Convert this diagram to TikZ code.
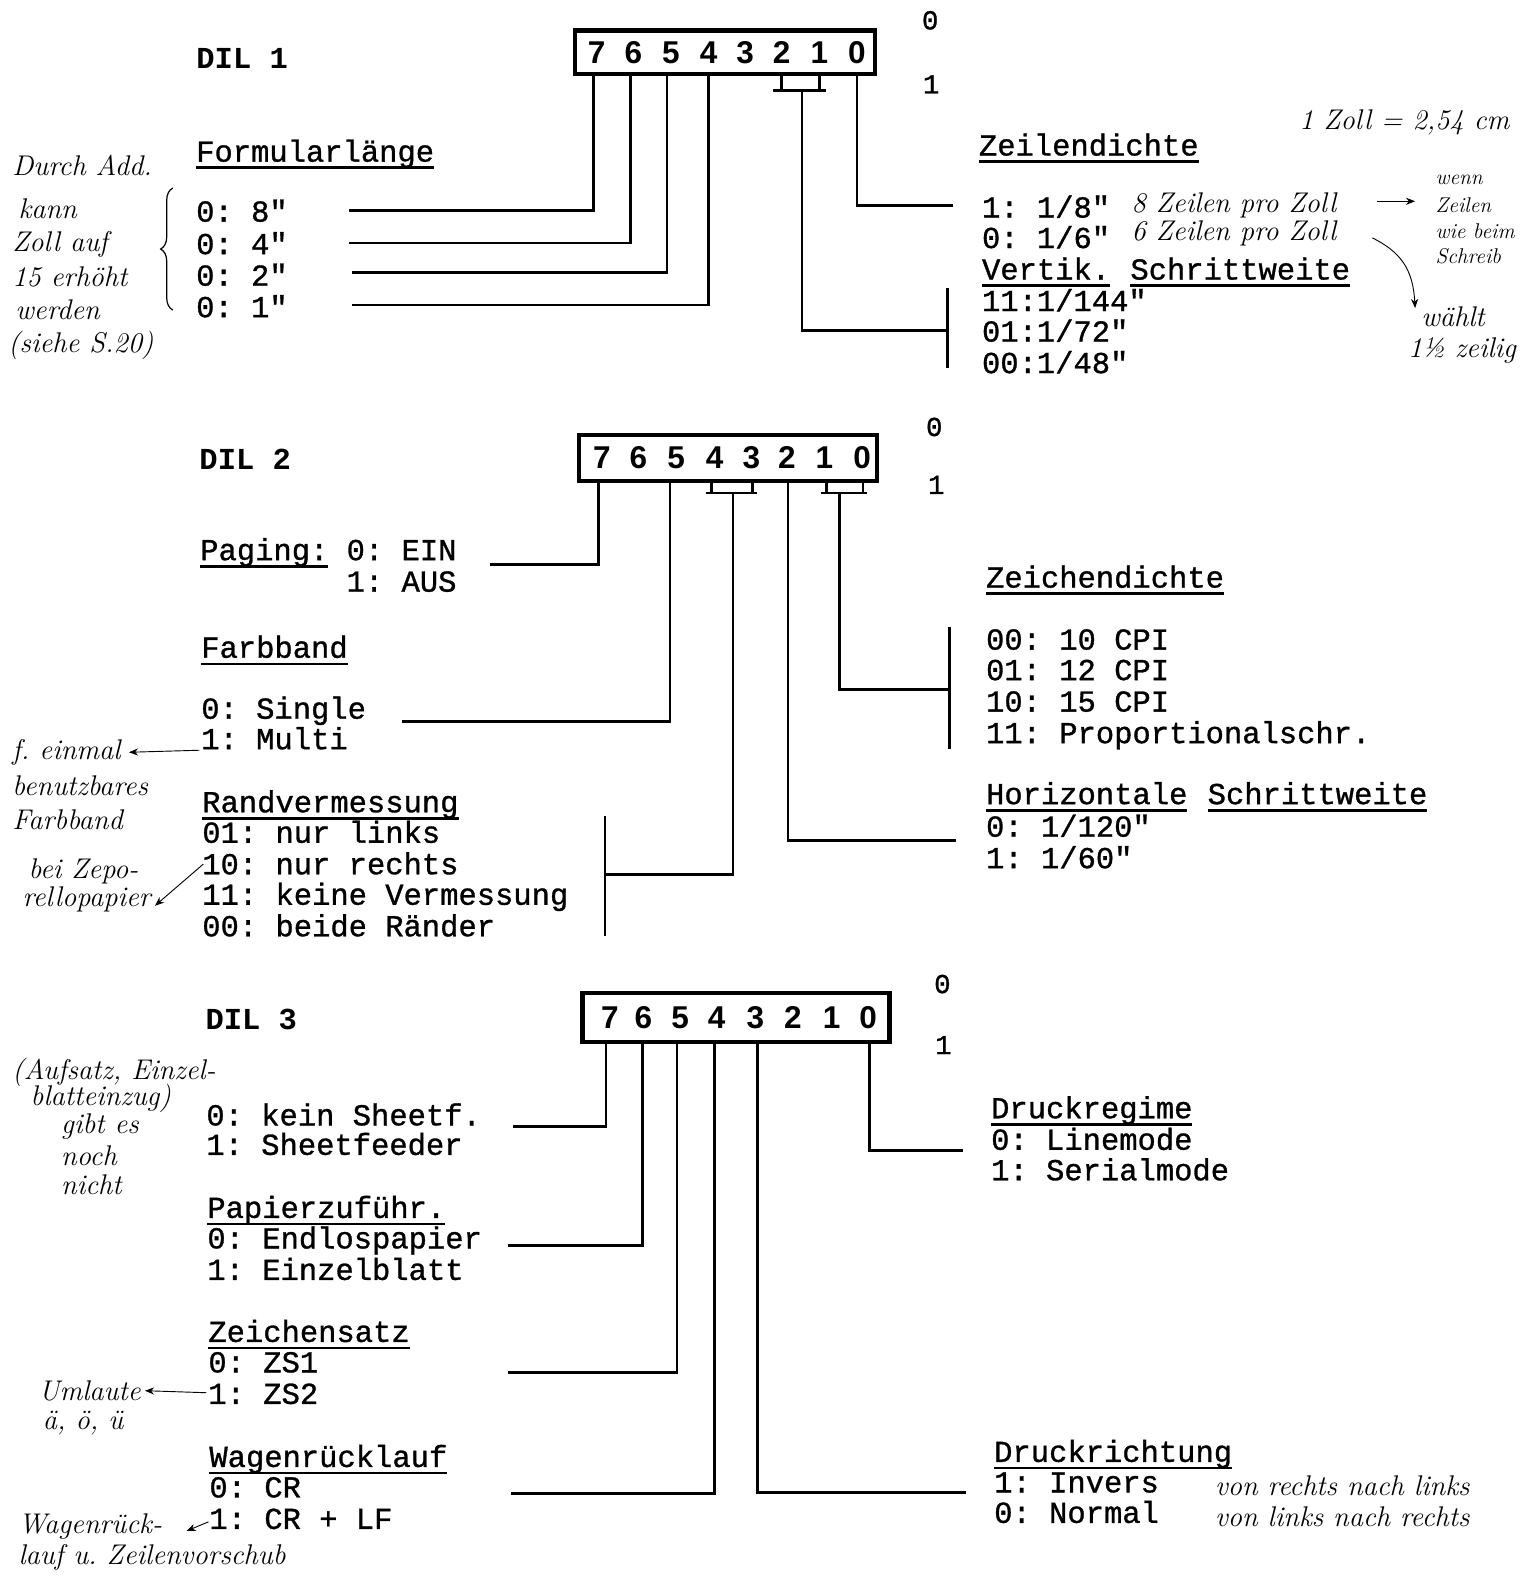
\documentclass[tikz,border=0pt]{standalone}
\usepackage{fontspec}
\usetikzlibrary{arrows.meta,decorations.pathreplacing}
\newfontfamily\twfam[FakeBold=1]{Liberation Mono}
\newfontfamily\twbold{Liberation Mono Bold}
\newfontfamily\digfam{Liberation Sans Bold}
\newcommand{\twf}{\twfam\fontsize{30}{34}\selectfont\frenchspacing}
\newcommand{\dilf}{\twbold\fontsize{30}{34}\selectfont\frenchspacing}
\newcommand{\digf}{\digfam\fontsize{31}{34}\selectfont}
\newcommand{\hwf}{\rmfamily\itshape\fontsize{28}{32}\selectfont\frenchspacing}
\newcommand{\hwsf}{\rmfamily\itshape\fontsize{21}{24}\selectfont\frenchspacing}
\newcommand{\onf}{\twfam\fontsize{27}{30}\selectfont}
\frenchspacing
\tikzset{
  tw/.style={font=\twf, anchor=base west, inner sep=0pt, outer sep=0pt},
  dilname/.style={font=\dilf, anchor=base west, inner sep=0pt},
  onoff/.style={font=\onf, inner sep=0pt},
  dilbox/.style={draw, line width=4pt, inner sep=0pt, outer sep=0pt},
  dig/.style={font=\digf, inner sep=0pt},
  wire/.style={line width=2.6pt},
  ul/.style={line width=2.6pt},
  hw/.style={font=\hwf, anchor=west, inner sep=0pt},
  hws/.style={font=\hwsf, anchor=west, inner sep=0pt},
  hwarrow/.style={-{Stealth[length=9pt,width=7pt]}, line width=0.9pt}
}
\newcommand{\ulnode}[1]{\draw[ul] ([yshift=-6pt]#1.base west) -- ([yshift=-6pt]#1.base east);}
\begin{document}
\begin{tikzpicture}[x=1pt,y=-1pt]
\clip (0,0) rectangle (1509,1568);
\fill[white] (0,0) rectangle (1509,1568);

% ================= DIL 1 =================
\node[dilname] (n1) at (193,67) {DIL 1};
\node[dilbox, minimum width=295pt, minimum height=43pt] (dil1) at (713.5,51.5) {};
\foreach \d/\x in {7/587,6/623,5/660,4/697,3/733,2/769,1/806,0/843}
  \node[dig] (d1\d) at (\x,52) {\d};
\node[onoff] (z1) at (915,20) {0};
\node[onoff] (e1) at (916,83) {1};

\node[tw] (fl) at (193,159) {Formularlänge}; \ulnode{fl}
\node[tw] (fa) at (193,218) {0: 8"};
\node[tw] (fb) at (193,250) {0: 4"};
\node[tw] (fc) at (193,281) {0: 2"};
\node[tw] (fd) at (193,312) {0: 1"};

\node[tw] (zd) at (963,153) {Zeilendichte}; \ulnode{zd}
\node[tw] (za) at (966,214) {1: 1/8"};
\node[tw] (zb) at (966,244) {0: 1/6"};
\node[tw] (vs1) at (966,275) {Vertik.}; \ulnode{vs1}
\node[tw] (vs2) at (1112,275) {Schrittweite}; \ulnode{vs2}
\node[tw] (va) at (966,306) {11:1/144"};
\node[tw] (vb) at (966,336) {01:1/72"};
\node[tw] (vc) at (966,367) {00:1/48"};

\coordinate (w1a) at (343,207);
\coordinate (w1b) at (343,239);
\coordinate (w1c) at (346,268);
\coordinate (w1d) at (346,300);
\coordinate (w1v) at (932,325);
\coordinate (w1z) at (937,202);
\draw[wire] ([xshift=18pt]dil1.south west) |- (w1a);
\draw[wire] ([xshift=54pt]dil1.south west) |- (w1b);
\draw[wire] ([xshift=90pt]dil1.south west) |- (w1c);
\draw[wire] ([xshift=131pt]dil1.south west) |- (w1d);
\coordinate (b1) at (789,89);
\draw[wire] ([xshift=203pt]dil1.south west) -- ++(0,16);
\draw[wire] ([xshift=240pt]dil1.south west) -- ++(0,16);
\draw[wire] ([xshift=-29pt]b1) -- ([xshift=24pt]b1);
\draw[wire] (b1) |- (w1v);
\draw[wire] (932,283) -- (932,362);
\draw[wire] ([xshift=277pt]dil1.south west) |- (w1z);

% ================= DIL 2 =================
\node[dilname] (n2) at (196,462) {DIL 2};
\node[dilbox, minimum width=293pt, minimum height=45pt] (dil2) at (716.5,450.5) {};
\foreach \d/\x in {7/592,6/628,5/665,4/703,3/739,2/774,1/811,0/848}
  \node[dig] (d2\d) at (\x,450) {\d};
\node[onoff] (z2) at (919,420) {0};
\node[onoff] (e2) at (921,477) {1};

\node[tw] (pg) at (197,551) {Paging:}; \ulnode{pg}
\node[tw] (pa) at (341,551) {0: EIN};
\node[tw] (pb) at (341,582) {1: AUS};
\node[tw] (fb2) at (198,647) {Farbband}; \ulnode{fb2}
\node[tw] (fba) at (198,707) {0: Single};
\node[tw] (fbb) at (198,737) {1: Multi};
\node[tw] (rv) at (199,799) {Randvermessung}; \ulnode{rv}
\node[tw] (rva) at (199,829) {01: nur links};
\node[tw] (rvb) at (199,860) {10: nur rechts};
\node[tw] (rvc) at (199,890) {11: keine Vermessung};
\node[tw] (rvd) at (199,921) {00: beide Ränder};

\node[tw] (zc) at (970,578) {Zeichendichte}; \ulnode{zc}
\node[tw] (zca) at (970,639) {00: 10 CPI};
\node[tw] (zcb) at (970,669) {01: 12 CPI};
\node[tw] (zcc) at (970,700) {10: 15 CPI};
\node[tw] (zcd) at (970,731) {11: Proportionalschr.};
\node[tw] (hs1) at (970,791) {Horizontale}; \ulnode{hs1}
\node[tw] (hs2) at (1188,791) {Schrittweite}; \ulnode{hs2}
\node[tw] (hsa) at (970,823) {0: 1/120"};
\node[tw] (hsb) at (970,854) {1: 1/60"};

\coordinate (w2a) at (482,555);
\coordinate (w2b) at (395,710);
\coordinate (w2r) at (595,860);
\coordinate (w2h) at (940,827);
\coordinate (w2z) at (934,678);
\draw[wire] ([xshift=19pt]dil2.south west) |- (w2a);
\draw[wire] ([xshift=89pt]dil2.south west) |- (w2b);
\coordinate (b2a) at (721,485);
\draw[wire] ([xshift=130pt]dil2.south west) -- ++(0,12.5);
\draw[wire] ([xshift=170pt]dil2.south west) -- ++(0,12.5);
\draw[wire] ([xshift=-27pt]b2a) -- ([xshift=24pt]b2a);
\draw[wire] (b2a) |- (w2r);
\draw[wire] (595,803) -- (595,921);
\draw[wire] ([xshift=205pt]dil2.south west) |- (w2h);
\coordinate (b2b) at (826,485);
\draw[wire] ([xshift=243pt]dil2.south west) -- ++(0,12.5);
\draw[wire] ([xshift=279pt]dil2.south west) -- ++(0,12.5);
\draw[wire] ([xshift=-18pt]b2b) -- ([xshift=27pt]b2b);
\draw[wire] (b2b) |- (w2z);
\draw[wire] (934,617) -- (934,737);

% ================= DIL 3 =================
\node[dilname] (n3) at (202,1013) {DIL 3};
\node[dilbox, minimum width=302pt, minimum height=48pt] (dil3) at (724,1001) {};
\foreach \d/\x in {7/600,6/633,5/669,4/705,3/743,2/780,1/818,0/854}
  \node[dig] (d3\d) at (\x,1001) {\d};
\node[onoff] (z3) at (927,968) {0};
\node[onoff] (e3) at (928,1028) {1};

\node[tw] (sa) at (203,1107) {0:  kein Sheetf.};
\node[tw] (sb) at (203,1136) {1:  Sheetfeeder};
\node[tw] (pz) at (204,1198) {Papierzuführ.}; \ulnode{pz}
\node[tw] (pza) at (204,1228) {0: Endlospapier};
\node[tw] (pzb) at (204,1259) {1: Einzelblatt};
\node[tw] (zs) at (205,1320) {Zeichensatz}; \ulnode{zs}
\node[tw] (zsa) at (205,1350) {0: ZS1};
\node[tw] (zsb) at (205,1381) {1: ZS2};
\node[tw] (wr) at (206,1443) {Wagenrücklauf}; \ulnode{wr}
\node[tw] (wra) at (206,1473) {0: CR};
\node[tw] (wrb) at (206,1504) {1: CR + LF};

\node[tw] (dr) at (975,1100) {Druckregime}; \ulnode{dr}
\node[tw] (dra) at (975,1131) {0: Linemode};
\node[tw] (drb) at (975,1161) {1: Serialmode};
\node[tw] (dk) at (978,1438) {Druckrichtung}; \ulnode{dk}
\node[tw] (dka) at (978,1468) {1: Invers};
\node[tw] (dkb) at (978,1498) {0: Normal};

\coordinate (w3a) at (505,1108);
\coordinate (w3b) at (500,1225);
\coordinate (w3c) at (500,1350);
\coordinate (w3d) at (503,1469);
\coordinate (w3e) at (950,1468);
\coordinate (w3f) at (947,1132);
\draw[wire] ([xshift=23pt]dil3.south west) |- (w3a);
\draw[wire] ([xshift=59pt]dil3.south west) |- (w3b);
\draw[wire] ([xshift=93pt]dil3.south west) |- (w3c);
\draw[wire] ([xshift=130pt]dil3.south west) |- (w3d);
\draw[wire] ([xshift=172pt]dil3.south west) |- (w3e);
\draw[wire] ([xshift=282pt]dil3.south west) |- (w3f);

% ================= handwritten notes =================
\node[hw] (h1) at (12,163) {Durch Add.};
\node[hw] (h2) at (18,205) {kann};
\node[hw] (h3) at (12,240) {Zoll auf};
\node[hw] (h4) at (12,272) {15 erhöht};
\node[hw] (h5) at (15,305) {werden};
\node[hw] (h6) at (8,340) {(siehe S.20)};
\draw[line width=1.2pt, decorate, decoration={brace, amplitude=12pt}] (170,305) -- (170,185);

\node[hw] (h7) at (1278,120) {1 Zoll = 2,54 cm};
\node[hw] (h8) at (1113,202) {8 Zeilen pro Zoll};
\node[hw] (h9) at (1113,230) {6 Zeilen pro Zoll};
\node[hws] (h10) at (1412,177) {wenn};
\node[hws] (h11) at (1412,202) {Zeilen};
\node[hws] (h12) at (1412,227) {wie beim};
\node[hws] (h13) at (1412,252) {Schreib};
\coordinate (ar1a) at (1355,198);
\coordinate (ar1b) at (1392,198);
\draw[hwarrow] (ar1a) -- (ar1b);
\node[hw] (h14) at (1398,312) {wählt};
\node[hw] (h15) at (1385,345) {1½ zeilig};
\coordinate (ar2a) at (1350,234);
\coordinate (ar2b) at (1392,303);
\draw[hwarrow] (ar2a) .. controls (1378,248) and (1390,265) .. (ar2b);

\node[hw] (h16) at (12,740) {f. einmal};
\coordinate (ar3) at (196,738);
\draw[hwarrow] (ar3) -- ([xshift=8pt]h16.east);
\node[hw] (h17) at (12,773) {benutzbares};
\node[hw] (h18) at (12,806) {Farbband};
\node[hw] (h19) at (28,857) {bei Zepo-};
\node[hw] (h20) at (22,885) {rellopapier};
\coordinate (ar4) at (200,850);
\draw[hwarrow] (ar4) -- ([xshift=4pt,yshift=-6pt]h20.east);

\node[hw] (h21) at (12,1055) {(Aufsatz, Einzel-};
\node[hw] (h22) at (30,1080) {blatteinzug)};
\node[hw] (h23) at (60,1108) {gibt es};
\node[hw] (h24) at (60,1137) {noch};
\node[hw] (h25) at (60,1165) {nicht};

\node[hw] (h26) at (38,1368) {Umlaute};
\coordinate (ar5) at (203,1370);
\draw[hwarrow] (ar5) -- ([xshift=4pt]h26.east);
\node[hw] (h27) at (42,1400) {ä, ö, ü};

\node[hw] (h28) at (18,1502) {Wagenrück-};
\coordinate (ar6) at (205,1497);
\draw[hwarrow] (ar6) -- ([xshift=24pt,yshift=-4pt]h28.east);
\node[hw] (h29) at (18,1532) {lauf u. Zeilenvorschub};

\node[hw] (h30) at (1195,1462) {von rechts nach links};
\node[hw] (h31) at (1195,1492) {von links nach rechts};
\end{tikzpicture}
\end{document}
